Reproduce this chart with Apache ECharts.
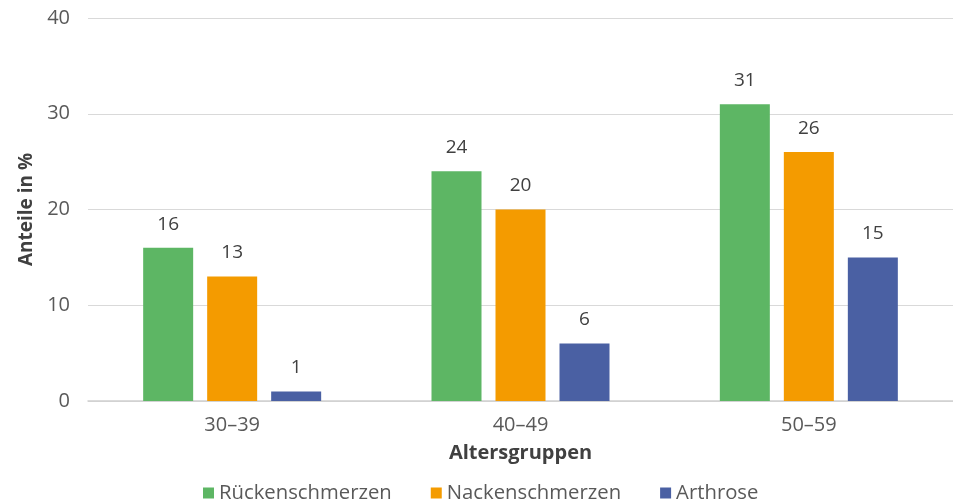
<!DOCTYPE html>
<html><head><meta charset="utf-8">
<script src="https://cdn.jsdelivr.net/npm/echarts@6/dist/echarts.min.js"></script>
<style>html,body{margin:0;padding:0;background:#fff}#c{width:953px;height:504px}</style>
</head><body><div id="c"></div>
<script>
const categories = ['30–39', '40–49', '50–59'];
const rueckenschmerzen = [16, 24, 31];
const nackenschmerzen = [13, 20, 26];
const arthrose = [1, 6, 15];
const seriesNames = ['Rückenschmerzen', 'Nackenschmerzen', 'Arthrose'];
const colors = ['#5DB664', '#F49B00', '#4A60A3'];
const FONT = 'Open Sans';
const chart = echarts.init(document.getElementById('c'));
const lbl = {show: true, position: 'top', distance: 14, color: '#404040', fontSize: 19, fontFamily: FONT};
chart.setOption({
  animation: false,
  textStyle: {fontFamily: FONT},
  grid: {left: 88, right: -3, top: 18, bottom: 103},
  legend: {
    bottom: -4, left: 198, itemWidth: 11, itemHeight: 11, itemGap: 39,
    icon: 'rect',
    textStyle: {fontSize: 20.3, color: '#595959', fontFamily: FONT, padding: [0, 0, 0, 0]},
    data: seriesNames
  },
  xAxis: {
    type: 'category', data: categories,
    name: 'Altersgruppen', nameLocation: 'middle', nameGap: 42,
    nameTextStyle: {fontSize: 20, fontWeight: 'bold', color: '#404040', fontFamily: FONT},
    axisLine: {lineStyle: {color: '#d0d0d0', width: 1.5}},
    axisTick: {show: false},
    axisLabel: {fontSize: 20, color: '#595959', margin: 14, fontFamily: FONT}
  },
  yAxis: {
    type: 'value', min: 0, max: 40, interval: 10,
    name: 'Anteile in %', nameLocation: 'middle', nameGap: 50,
    nameTextStyle: {fontSize: 19, fontWeight: 'bold', color: '#404040', fontFamily: FONT},
    axisLabel: {fontSize: 20, color: '#595959', margin: 18, fontFamily: FONT},
    splitLine: {lineStyle: {color: '#d9d9d9', width: 1.2}},
    axisLine: {show: false}, axisTick: {show: false}
  },
  series: [
    {name: seriesNames[0], type: 'bar', data: rueckenschmerzen, itemStyle: {color: colors[0]}, label: lbl, barWidth: 50, barGap: '28%'},
    {name: seriesNames[1], type: 'bar', data: nackenschmerzen, itemStyle: {color: colors[1]}, label: lbl, barWidth: 50, barGap: '28%'},
    {name: seriesNames[2], type: 'bar', data: arthrose, itemStyle: {color: colors[2]}, label: lbl, barWidth: 50, barGap: '28%'}
  ]
});
</script></body></html>
